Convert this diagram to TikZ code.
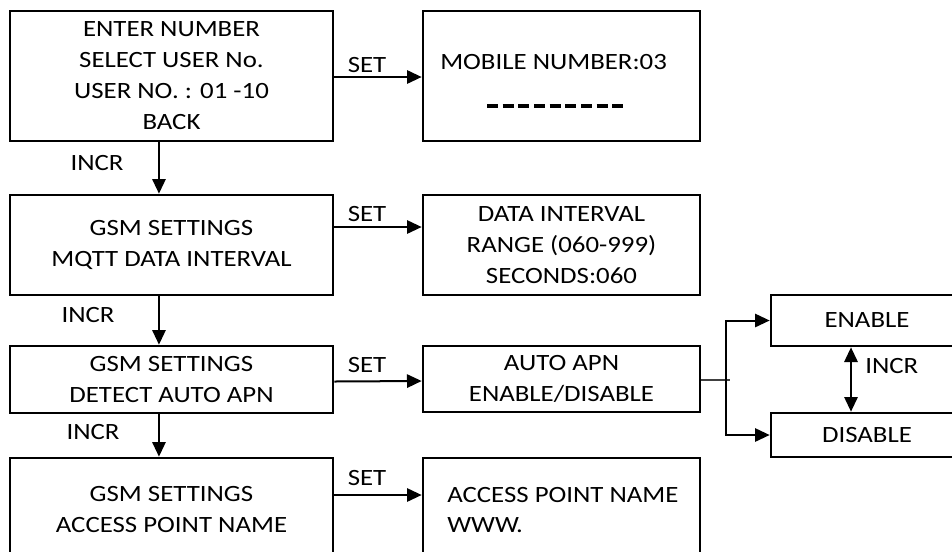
\documentclass[tikz,border=0pt]{standalone}
\usepackage{fontspec}
\setmainfont{Carlito}[FakeStretch=1.15]
\usetikzlibrary{arrows.meta}

\tikzset{
  menubox/.style={draw, line width=2pt, rectangle, align=center, inner sep=0pt,
    font=\fontsize{17.5pt}{23.25pt}\selectfont},
  txt/.style={inner sep=0pt, font=\fontsize{17.5pt}{23.25pt}\selectfont},
  arr/.style={line width=1.5pt, -{Triangle[length=11pt,width=10pt]}},
  dblarr/.style={line width=1.5pt, {Triangle[length=11pt,width=10pt]}-{Triangle[length=11pt,width=10pt]}},
  stub/.style={line width=1pt, black!75},
  dashfield/.style={line width=3pt, dash pattern=on 8.3pt off 3.45pt}
}

\begin{document}
\begin{tikzpicture}[x=0.75pt,y=-0.75pt]
\clip (0,0) rectangle (952,551);
\fill[white] (0,0) rectangle (952,551);

% left column: menu screens
\node[menubox, minimum width=242.25pt, minimum height=97.5pt] (b1) at (171.5,76)
  {ENTER NUMBER\\SELECT USER No.\\USER NO. : 01 -10\\BACK};
\node[menubox, minimum width=242.25pt, minimum height=75pt] (b2) at (171.5,245)
  {GSM SETTINGS\\MQTT DATA INTERVAL};
\node[menubox, minimum width=242.25pt, minimum height=50.25pt] (b3) at (171.5,379.5)
  {GSM SETTINGS\\DETECT AUTO APN};
\node[menubox, minimum width=242.25pt, minimum height=76.5pt] (b4) at (171.5,509)
  {GSM SETTINGS\\ACCESS POINT NAME};

% right column: setting screens
\node[menubox, minimum width=207.75pt, minimum height=97.5pt] (mob) at (561.5,76) {};
\node[txt, anchor=base west] (mobtxt) at (440,69) {MOBILE NUMBER:03};
\draw[dashfield] (487,106) -- (623,106);

\node[menubox, minimum width=207.75pt, minimum height=75pt] (data) at (561.5,245)
  {DATA INTERVAL\\RANGE (060-999)\\SECONDS:060};
\node[menubox, minimum width=207.75pt, minimum height=49.5pt] (auto) at (561.5,379)
  {AUTO APN\\ENABLE/DISABLE};
\node[menubox, minimum width=207.75pt, minimum height=76.5pt] (acc) at (561.5,509) {};
\node[txt, anchor=base west] (acctxt1) at (447,502) {ACCESS POINT NAME};
\node[txt, anchor=base west] (acctxt2) at (447,532) {WWW.};

% options
\node[menubox, minimum width=144pt, minimum height=38.25pt] (en) at (867,320.5) {ENABLE};
\node[menubox, minimum width=144pt, minimum height=33pt] (dis) at (867,435) {DISABLE};

% SET transitions
\draw[arr] ([yshift=-0.75pt]b1.east) -- ([yshift=-0.75pt]mob.west);
\draw[arr] ([yshift=13.5pt]b2.east) -- ([yshift=13.5pt]data.west);
\draw[arr] ([yshift=-1.5pt]b3.east) -- ([yshift=-1.5pt]auto.west);
\draw[arr] ([yshift=10.5pt]b4.east) -- ([yshift=10.5pt]acc.west);
\node[txt, anchor=base] (set1) at (367,72) {SET};
\node[txt, anchor=base] (set2) at (367,221) {SET};
\node[txt, anchor=base] (set3) at (367,372) {SET};
\node[txt, anchor=base] (set4) at (367,485) {SET};

% INCR transitions
\draw[arr] ([xshift=-9.4pt]b1.south) -- ([xshift=-9.4pt]b2.north);
\draw[arr] ([xshift=-9.4pt]b2.south) -- ([xshift=-9.4pt]b3.north);
\draw[arr] ([xshift=-9.4pt]b3.south) -- ([xshift=-9.4pt]b4.north);
\node[txt, anchor=base] (incr1) at (97,170) {INCR};
\node[txt, anchor=base] (incr2) at (88,322) {INCR};
\node[txt, anchor=base] (incr3) at (93,439) {INCR};

% fork to ENABLE / DISABLE
\coordinate (fork) at (726,380);
\coordinate (forkend) at (730,380);
\draw[stub] ([yshift=-0.75pt]auto.east) -- (forkend);
\draw[arr] (fork) |- (en.west);
\draw[arr] (fork) |- (dis.west);
\draw[dblarr] ([xshift=-12pt]en.south) -- ([xshift=-12pt]dis.north);
\node[txt, anchor=base west] (incr4) at (865,373) {INCR};
\end{tikzpicture}
\end{document}
